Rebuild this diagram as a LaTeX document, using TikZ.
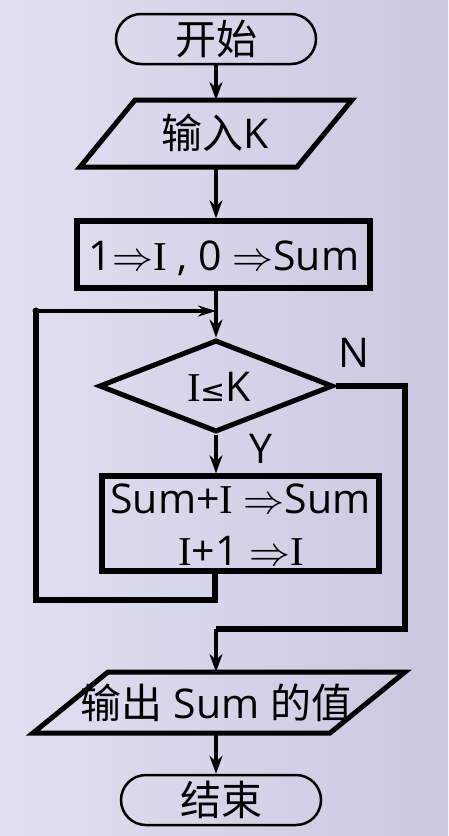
\RequirePackage{fix-cm}
\documentclass[tikz,border=0pt]{standalone}
\usepackage{fontspec}
\setmainfont{Open Sans}
\newfontfamily\cjk{Noto Sans CJK SC}
\newfontfamily\serifI{Liberation Serif}
\newfontfamily\sym{DejaVu Sans}
\usetikzlibrary{shapes.geometric,arrows.meta}
\newcommand{\myI}{{\serifI I}}
\newcommand{\imp}{$\Rightarrow$}
\newcommand{\myle}{{\sym\fontsize{30}{30}\selectfont ≤}}
\definecolor{bgL}{RGB}{224,224,241}
\definecolor{bgR}{RGB}{200,201,224}
\begin{document}
\begin{tikzpicture}[x=1pt,y=-1pt,
  every node/.append style={font=\fontsize{41}{52}\selectfont, text=black},
  term/.style={draw, line width=2.5pt, rounded corners=25pt, minimum width=200pt, minimum height=50pt, inner sep=0pt},
  box/.style={draw, line width=5.5pt, inner sep=0pt},
  dec/.style={diamond, draw, line width=5pt, inner sep=0pt, minimum width=234pt, minimum height=92pt},
  txt/.style={inner sep=0pt, anchor=base},
  flow/.style={line width=3.5pt, -{Stealth[length=18pt,width=13pt]}},
  fat/.style={line width=5.5pt},
  para/.style={line width=5pt, line join=miter}]
\shade[left color=bgL, right color=bgR] (0,0) rectangle (448,836);
\useasboundingbox (0,0) rectangle (448,836);
% start
\node[term] (start) at (216,39) {\cjk 开始};
% input parallelogram
\draw[para] (135,100) -- (352,100) -- (297,167) -- (80,167) -- cycle;
\node[txt] (in) at (215,148) {{\cjk 输入}K};
\coordinate (inT) at (216,100);
\coordinate (inB) at (216,167);
% init box
\node[box, minimum width=293pt, minimum height=67pt] (init) at (223.5,254.5) {};
\node[txt] (initT) at (224,270) {1\imp\myI\ , 0 \imp Sum};
% decision
\node[dec] (dec) at (216,386) {};
\node[txt] (cond) at (219,401) {\myI\myle K};
% body
\node[box, minimum width=277pt, minimum height=95pt] (body) at (240.5,523.5) {};
\node[txt] (bodyA) at (240.5,513) {Sum+\myI\ \imp Sum};
\node[txt] (bodyB) at (241,565) {\myI+1 \imp\myI};
% output parallelogram
\draw[para] (108,672) -- (405,672) -- (330,733) -- (33,733) -- cycle;
\node[txt] (out) at (216.5,718) {{\cjk 输出} Sum {\cjk 的值}};
\coordinate (outT) at (216,672);
\coordinate (outB) at (216,733);
% end
\node[term] (end) at (221,800) {\cjk 结束};
% coordinates
\coordinate (join) at (216,311);
\coordinate (lt) at (36,311);
\coordinate (lb) at (36,600);
\coordinate (bb) at (215,571);
\coordinate (nr) at (405,386);
\coordinate (nb) at (405,629);
\coordinate (mb) at (216,629);
% connectors
\draw[flow] (start.south -| inT) -- (inT);
\draw[flow] (inB) -- (inB |- init.north);
\draw[line width=3.5pt] (join |- init.south) -- (join);
\draw[flow] (join) -- (dec.north);
\draw[flow] (dec.south) -- (dec.south |- body.north);
\draw[fat] (bb) |- (lb) -- (lt);
\draw[line width=4pt, -{Stealth[length=18pt,width=11pt]}] (lt) -- (join);
\fill (lt) circle (3.5pt);
\draw[fat] (dec.east) -- (nr) -- (nb) -- (mb);
\draw[flow] (mb) -- (outT);
\draw[flow] (outB) -- (end.north -| outB);
% labels
\node[txt, anchor=base west] (N) at (338,367) {N};
\node[txt, anchor=base west] (Y) at (249,463) {Y};
\end{tikzpicture}
\end{document}
